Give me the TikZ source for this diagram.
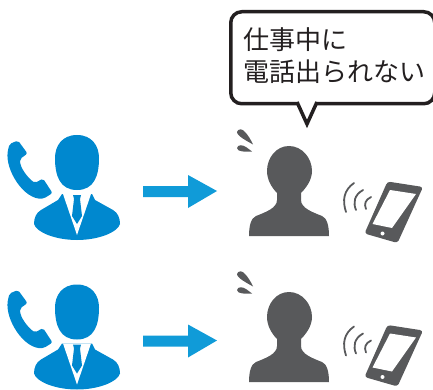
\documentclass[tikz,border=0pt]{standalone}
\usepackage{fontspec}
\setmainfont{Noto Sans CJK JP}
\definecolor{callblue}{HTML}{0088CF}
\definecolor{arrowblue}{HTML}{109BD8}
\definecolor{persongray}{HTML}{58595B}
\definecolor{bubbleink}{HTML}{231F20}
\tikzset{
  caller/.pic={
    % phone
    \fill[callblue,rounded corners=2pt] (18,20.5) -- (27.5,33.5) -- (20,39)
      .. controls (20,48) and (28,58) .. (35,63) -- (43,58.5) -- (52.5,73) -- (44,78.5)
      .. controls (24,80) and (5,50) .. (8,30) -- (9.5,24) -- cycle;
    % head
    \fill[callblue] (77,15) .. controls (92,15) and (99,26) .. (99,38)
      .. controls (99,56) and (94,70) .. (77,70)
      .. controls (60,70) and (55,56) .. (55,38)
      .. controls (55,26) and (62,15) .. (77,15) -- cycle;
    % body
    \fill[callblue] (62,74) -- (58,80) -- (41,90)
      .. controls (36,93) and (34,98) .. (34,104)
      .. controls (36,112) and (55,120) .. (77,120)
      .. controls (99,120) and (118,112) .. (120,104)
      .. controls (120,98) and (118,93) .. (113,90) -- (95,80) -- (92,74) -- cycle;
    \fill[white] (63,74) -- (77,115) -- (91,74) -- cycle;
    % tie
    \fill[callblue] (73,75) -- (81,75) -- (80,79) -- (82,96) -- (77,104) -- (72,96) -- (74,79) -- cycle;
    % arrow
    \fill[arrowblue] (143,66) -- (188,66) -- (188,55) -- (217,71) -- (188,88) -- (188,77) -- (143,77) -- cycle;
  },
  sweat/.pic={
    \fill[persongray] (253,24.5) .. controls (247,21) and (237,16) .. (237,12)
      .. controls (238,8) and (243,9) .. (245,12) .. controls (248,15) and (251,20) .. (253,24.5) -- cycle;
    \fill[persongray] (252,31.5) .. controls (246,32) and (237,32) .. (237,28)
      .. controls (238,24) and (243,25) .. (246,27) -- cycle;
  },
  callee/.pic={
    \fill[persongray] (289,26) .. controls (302,26) and (312,38) .. (312,51)
      .. controls (312,60) and (306,68) .. (301,73) -- (301,80)
      .. controls (301,88) and (312,92) .. (322,96)
      .. controls (327,98) and (329,106) .. (329,116) -- (249,116)
      .. controls (249,106) and (251,98) .. (256,96)
      .. controls (266,92) and (277,88) .. (277,80) -- (277,73)
      .. controls (272,68) and (267,60) .. (267,51)
      .. controls (267,38) and (276,26) .. (289,26) -- cycle;
  },
  handset/.pic={
    % phone
    \fill[persongray,rounded corners=3pt] (387.5,61.5) -- (423,67) -- (397.5,123) -- (364.5,113.5) -- cycle;
    \fill[white] (390,70) -- (416,74) -- (392,108) -- (372.5,104) -- cycle;
    \fill[white] (382.5,113.5) circle (2);
    % waves
    \draw[persongray,wave] (354,63) .. controls (344,70) and (342,80) .. (346,92);
    \draw[persongray,wave] (363,70) .. controls (354,75) and (353,83) .. (356,90);
    \draw[persongray,wave] (371,77) .. controls (365,80) and (364,84) .. (366,89);
  },
  wave/.style={line width=1.8pt,line cap=round},
  bubble/.style={draw=bubbleink,line width=3.5pt,fill=white,rounded corners=11pt},
  bubbletext/.style={text=bubbleink,font=\fontsize{26}{32}\selectfont,align=left,inner sep=0pt,anchor=north west}
}
\begin{document}
\begin{tikzpicture}[x=1pt,y=-1pt]
  \useasboundingbox (0,0) rectangle (433,390);
  \pic at (0,120) {caller};
  \pic at (0,120) {sweat};
  \pic at (0,120) {callee};
  \pic at (0,120) {handset};
  \pic at (0,269.5) {caller};
  \pic at (0,262) {sweat};
  \pic at (0,266) {callee};
  \pic at (0,263.5) {handset};
  % speech bubble
  \node[bubble,minimum width=204pt,minimum height=92pt,anchor=north west] (speech) at (229,10) {};
  \fill[white] (297,100) -- (307,124) -- (317,100) -- cycle;
  \draw[draw=bubbleink,line width=3.5pt,line join=miter] (297,102) -- (307,124) -- (317,102);
  \node[bubbletext] (speechtext) at (243,27) {仕事中に\\電話出られない};
\end{tikzpicture}
\end{document}
